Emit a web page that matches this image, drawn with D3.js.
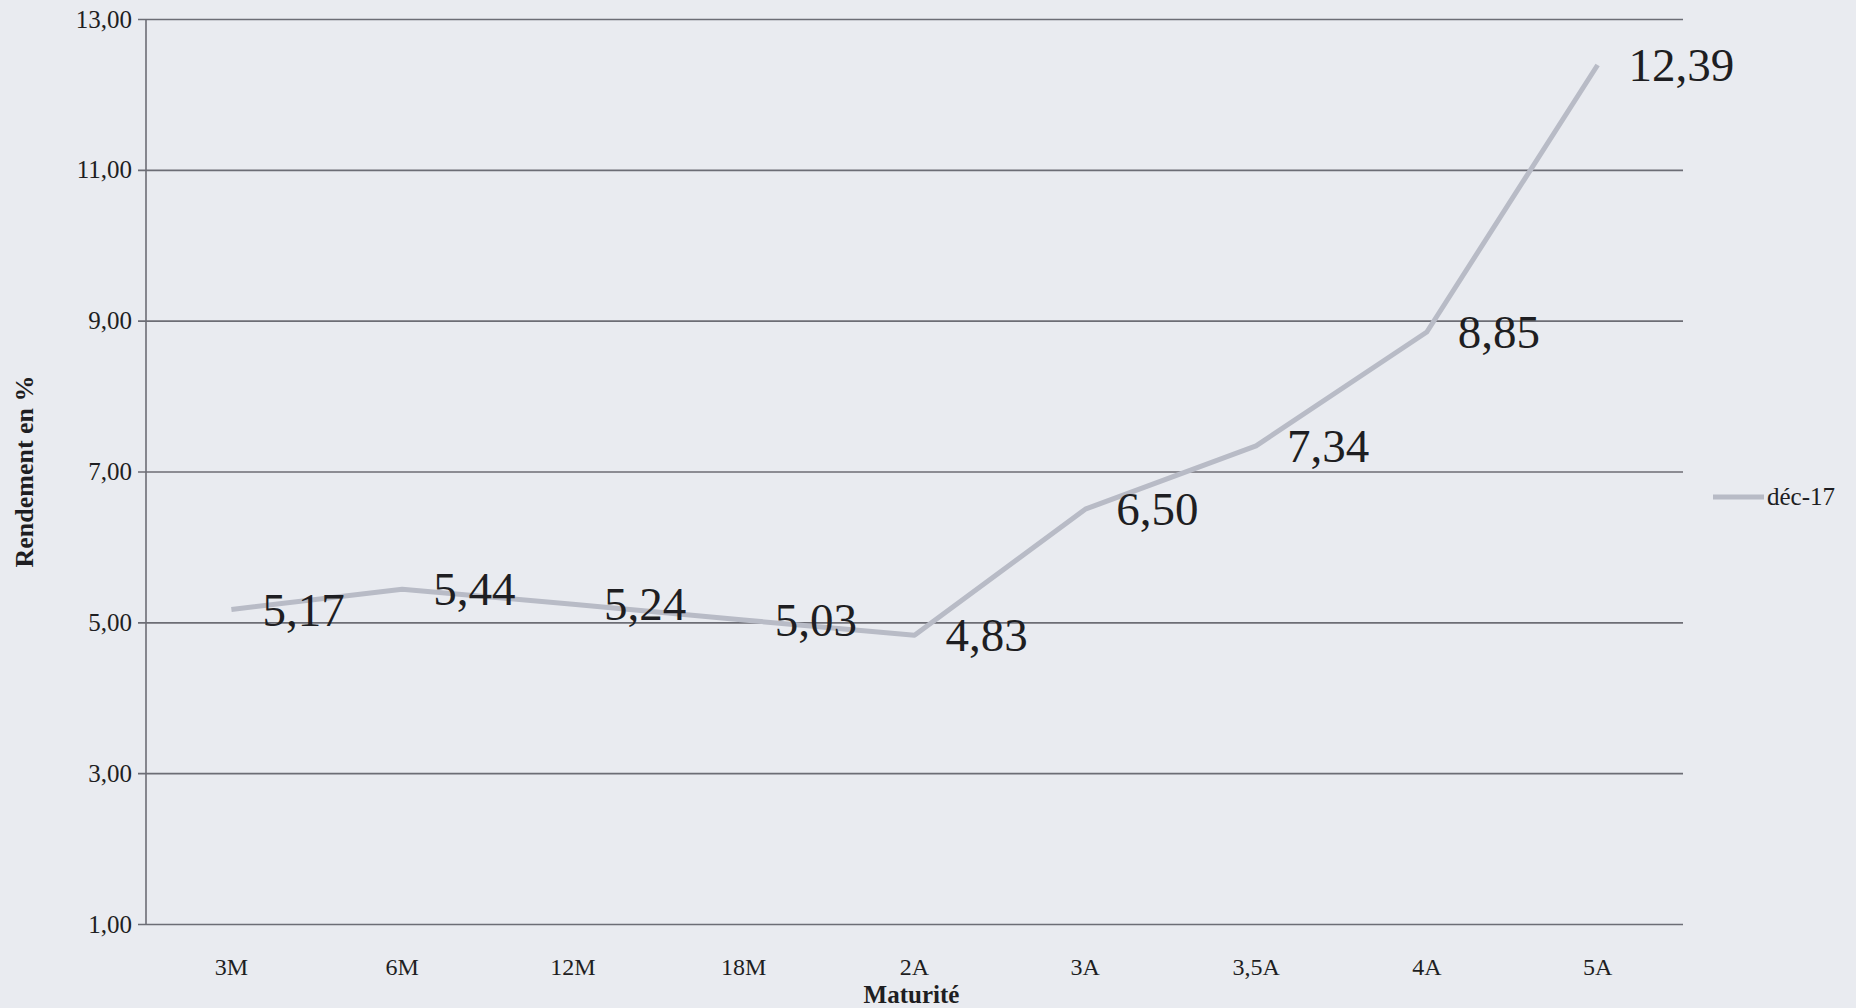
<!DOCTYPE html>
<html>
<head>
<meta charset="utf-8">
<script src="https://cdn.jsdelivr.net/npm/d3@7"></script>
<style>
  html, body { margin: 0; padding: 0; background: #e9ebf0; }
  svg text { font-family: "Liberation Serif", "Times New Roman", serif; fill: #1e1e22; }
</style>
</head>
<body>
<div id="chart"></div>
<script>
var maturities = ["3M", "6M", "12M", "18M", "2A", "3A", "3,5A", "4A", "5A"];
var rendements = [5.17, 5.44, 5.24, 5.03, 4.83, 6.50, 7.34, 8.85, 12.39];
var yTicks = [1, 3, 5, 7, 9, 11, 13];
var seriesName = "déc-17";

var W = 1856, H = 1008,
  margin = {top: 19, right: 173, bottom: 84, left: 146},
  innerW = W - margin.left - margin.right,
  innerH = H - margin.top - margin.bottom,
  serif = "'Liberation Serif', 'Times New Roman', serif";

var fr = d3.formatLocale({decimal: ",", thousands: " ", grouping: [3], currency: ["", " €"]});
var fmt = fr.format(".2f");

var svg = d3.select("#chart").append("svg")
  .attr("width", W)
  .attr("height", H);

var g = svg.append("g")
  .attr("transform", "translate(" + margin.left + "," + margin.top + ")");

var x = d3.scaleBand().domain(maturities).range([0, innerW]);
var y = d3.scaleLinear().domain([1, 13]).range([innerH, 0]);

// gridlines + y labels
var yAxis = g.append("g")
  .attr("transform", "translate(-8,0)")
  .call(d3.axisLeft(y).tickValues(yTicks).tickFormat(fmt).tickSize(0).tickPadding(6));
yAxis.select(".domain").remove();
yAxis.selectAll("line")
  .attr("x1", 0).attr("x2", innerW + 8)
  .attr("stroke", "#6c6d75").attr("stroke-width", 1.6);
yAxis.selectAll("text").attr("font-size", 25).style("font-family", serif);

// vertical axis line
g.append("line")
  .attr("x1", 0).attr("x2", 0)
  .attr("y1", 0).attr("y2", innerH)
  .attr("stroke", "#6c6d75").attr("stroke-width", 1.6);

// x labels
var xAxis = g.append("g")
  .attr("transform", "translate(0," + innerH + ")")
  .call(d3.axisBottom(x).tickSize(0).tickPadding(34));
xAxis.select(".domain").remove();
xAxis.selectAll("text").attr("font-size", 24).style("font-family", serif);

// line
var line = d3.line()
  .x(function (d, i) { return x(maturities[i]) + x.bandwidth() / 2; })
  .y(function (d) { return y(d); });

g.append("path")
  .datum(rendements)
  .attr("fill", "none")
  .attr("stroke", "#b8bbc6")
  .attr("stroke-width", 5)
  .attr("stroke-linejoin", "round")
  .attr("d", line);

// data labels
g.selectAll(".lbl")
  .data(rendements)
  .enter().append("text")
  .attr("class", "lbl")
  .attr("x", function (d, i) { return x(maturities[i]) + x.bandwidth() / 2 + 31; })
  .attr("y", function (d) { return y(d) + 16; })
  .attr("font-size", 47)
  .style("font-family", serif)
  .text(function (d) { return fmt(d); });

// axis titles
svg.append("text")
  .attr("x", margin.left + innerW / 2 - 3)
  .attr("y", 1003)
  .attr("text-anchor", "middle")
  .attr("font-size", 25)
  .attr("font-weight", "bold")
  .style("font-family", serif)
  .text("Maturité");

svg.append("text")
  .attr("transform", "translate(33," + (margin.top + innerH / 2) + ") rotate(-90)")
  .attr("text-anchor", "middle")
  .attr("font-size", 26)
  .attr("font-weight", "bold")
  .style("font-family", serif)
  .text("Rendement en %");

// legend
var leg = svg.append("g").attr("transform", "translate(1713,497)");
leg.append("line")
  .attr("x1", 0).attr("x2", 51)
  .attr("stroke", "#b8bbc6").attr("stroke-width", 5);
leg.append("text")
  .attr("x", 54).attr("y", 8)
  .attr("font-size", 25)
  .style("font-family", serif)
  .text(seriesName);
</script>
</body>
</html>
